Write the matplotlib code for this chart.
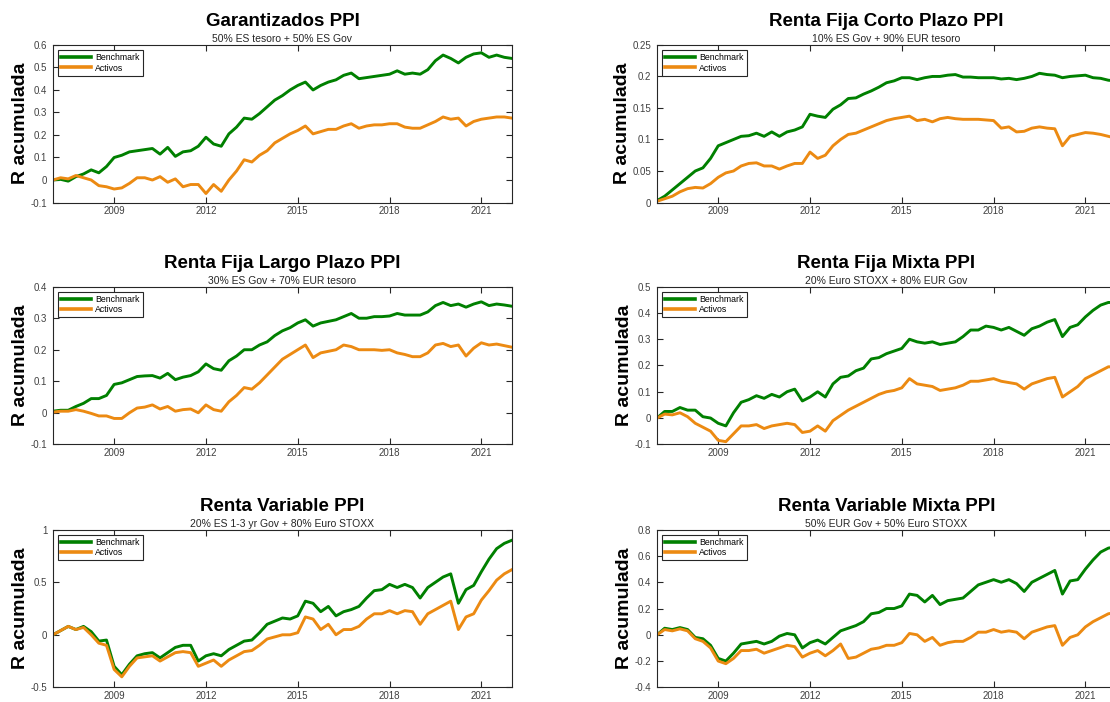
import numpy as np
import matplotlib
matplotlib.use("Agg")
import matplotlib.pyplot as plt

plt.rcParams['font.family'] = ['Liberation Sans', 'DejaVu Sans']
plt.rcParams['axes.unicode_minus'] = False

# quarterly grid, 2007.0 .. 2022.0
years = 2007 + np.arange(61) / 4

titles = ["Garantizados PPI", "Renta Fija Corto Plazo PPI",
          "Renta Fija Largo Plazo PPI", "Renta Fija Mixta PPI",
          "Renta Variable PPI", "Renta Variable Mixta PPI"]
subtitles = ["50% ES tesoro + 50% ES Gov", "10% ES Gov + 90% EUR tesoro",
             "30% ES Gov + 70% EUR tesoro", "20% Euro STOXX + 80% EUR Gov",
             "20% ES 1-3 yr Gov + 80% Euro STOXX", "50% EUR Gov + 50% Euro STOXX"]

# Garantizados
bench_gar = [0.0, 0.003, -0.005, 0.015, 0.027, 0.045, 0.032, 0.06, 0.10, 0.11,
             0.125, 0.13, 0.135, 0.14, 0.115, 0.145, 0.105, 0.125, 0.13, 0.15,
             0.19, 0.16, 0.15, 0.205, 0.235, 0.275, 0.27, 0.295, 0.325, 0.355,
             0.375, 0.40, 0.42, 0.435, 0.40, 0.42, 0.435, 0.445, 0.465, 0.475,
             0.45, 0.455, 0.46, 0.465, 0.47, 0.485, 0.47, 0.475, 0.47, 0.49,
             0.53, 0.555, 0.54, 0.52, 0.545, 0.56, 0.565, 0.545, 0.555, 0.545, 0.54]
act_gar = [0.0, 0.01, 0.005, 0.02, 0.01, 0.0, -0.025, -0.03, -0.04, -0.035,
           -0.015, 0.01, 0.01, 0.0, 0.015, -0.01, 0.005, -0.03, -0.02, -0.02,
           -0.06, -0.02, -0.05, 0.0, 0.04, 0.09, 0.08, 0.11, 0.13, 0.165,
           0.185, 0.205, 0.22, 0.24, 0.205, 0.215, 0.225, 0.225, 0.24, 0.25,
           0.23, 0.24, 0.245, 0.245, 0.25, 0.25, 0.235, 0.23, 0.23, 0.245,
           0.26, 0.28, 0.27, 0.275, 0.24, 0.26, 0.27, 0.275, 0.28, 0.28, 0.275]

# Renta Fija Corto Plazo
bench_rfcp = [0.003, 0.01, 0.02, 0.03, 0.04, 0.05, 0.055, 0.07, 0.09, 0.095,
              0.10, 0.105, 0.106, 0.11, 0.105, 0.112, 0.105, 0.112, 0.115, 0.12,
              0.14, 0.137, 0.135, 0.148, 0.155, 0.165, 0.166, 0.172, 0.177, 0.183,
              0.19, 0.193, 0.198, 0.198, 0.195, 0.198, 0.20, 0.20, 0.202, 0.203,
              0.199, 0.199, 0.198, 0.198, 0.198, 0.196, 0.197, 0.195, 0.197, 0.20,
              0.205, 0.203, 0.202, 0.198, 0.20, 0.201, 0.202, 0.198, 0.197, 0.194, 0.193]
act_rfcp = [0.002, 0.006, 0.01, 0.017, 0.022, 0.024, 0.023, 0.03, 0.04, 0.047,
            0.05, 0.058, 0.062, 0.063, 0.058, 0.058, 0.053, 0.058, 0.062, 0.062,
            0.08, 0.07, 0.075, 0.09, 0.10, 0.108, 0.11, 0.115, 0.12, 0.125,
            0.13, 0.133, 0.135, 0.137, 0.13, 0.132, 0.128, 0.133, 0.135, 0.133,
            0.132, 0.132, 0.132, 0.131, 0.13, 0.118, 0.12, 0.112, 0.113, 0.118,
            0.12, 0.118, 0.117, 0.09, 0.105, 0.108, 0.111, 0.11, 0.108, 0.105, 0.102]

# Renta Fija Largo Plazo
bench_rflp = [0.005, 0.008, 0.008, 0.02, 0.03, 0.045, 0.045, 0.055, 0.09, 0.095,
              0.105, 0.115, 0.117, 0.118, 0.11, 0.125, 0.105, 0.113, 0.118, 0.13,
              0.155, 0.14, 0.135, 0.165, 0.18, 0.20, 0.20, 0.215, 0.225, 0.245,
              0.26, 0.27, 0.285, 0.295, 0.275, 0.285, 0.29, 0.295, 0.305, 0.315,
              0.30, 0.30, 0.305, 0.305, 0.307, 0.315, 0.31, 0.31, 0.31, 0.32,
              0.34, 0.35, 0.34, 0.345, 0.335, 0.345, 0.352, 0.34, 0.345, 0.342, 0.338]
act_rflp = [0.002, 0.005, 0.005, 0.01, 0.005, -0.002, -0.01, -0.01, -0.018, -0.018,
            0.0, 0.015, 0.018, 0.025, 0.012, 0.02, 0.005, 0.01, 0.012, 0.0,
            0.025, 0.01, 0.005, 0.035, 0.055, 0.08, 0.075, 0.095, 0.12, 0.145,
            0.17, 0.185, 0.20, 0.215, 0.175, 0.19, 0.195, 0.20, 0.215, 0.21,
            0.20, 0.20, 0.20, 0.198, 0.20, 0.19, 0.185, 0.178, 0.178, 0.19,
            0.215, 0.22, 0.21, 0.215, 0.18, 0.205, 0.222, 0.215, 0.218, 0.213, 0.208]

# Renta Fija Mixta
bench_rfm = [0.0, 0.025, 0.025, 0.04, 0.03, 0.03, 0.005, 0.0, -0.02, -0.03,
             0.02, 0.06, 0.07, 0.085, 0.075, 0.09, 0.08, 0.10, 0.11, 0.065,
             0.08, 0.10, 0.08, 0.13, 0.155, 0.16, 0.18, 0.19, 0.225, 0.23,
             0.245, 0.255, 0.265, 0.30, 0.29, 0.285, 0.29, 0.28, 0.285, 0.29,
             0.31, 0.335, 0.335, 0.35, 0.345, 0.335, 0.345, 0.33, 0.315, 0.34,
             0.35, 0.365, 0.375, 0.31, 0.345, 0.355, 0.385, 0.41, 0.43, 0.44, 0.44]
act_rfm = [0.0, 0.015, 0.012, 0.02, 0.005, -0.02, -0.035, -0.05, -0.085, -0.09,
           -0.06, -0.03, -0.03, -0.025, -0.04, -0.03, -0.025, -0.02, -0.025, -0.055,
           -0.05, -0.03, -0.05, -0.01, 0.01, 0.03, 0.045, 0.06, 0.075, 0.09,
           0.10, 0.105, 0.115, 0.15, 0.13, 0.125, 0.12, 0.105, 0.11, 0.115,
           0.125, 0.14, 0.14, 0.145, 0.15, 0.14, 0.135, 0.13, 0.11, 0.13,
           0.14, 0.15, 0.155, 0.08, 0.10, 0.12, 0.15, 0.165, 0.18, 0.195, 0.195]

# Renta Variable
bench_rv = [0.0, 0.04, 0.08, 0.05, 0.08, 0.03, -0.06, -0.05, -0.30, -0.38,
            -0.28, -0.20, -0.18, -0.17, -0.22, -0.17, -0.12, -0.10, -0.10, -0.25,
            -0.20, -0.18, -0.20, -0.14, -0.10, -0.06, -0.05, 0.02, 0.10, 0.13,
            0.16, 0.15, 0.18, 0.32, 0.30, 0.22, 0.27, 0.18, 0.22, 0.24,
            0.27, 0.35, 0.42, 0.43, 0.48, 0.45, 0.48, 0.45, 0.35, 0.45,
            0.50, 0.55, 0.58, 0.30, 0.43, 0.47, 0.60, 0.72, 0.82, 0.87, 0.90]
act_rv = [0.0, 0.04, 0.08, 0.05, 0.07, 0.0, -0.08, -0.10, -0.33, -0.40,
          -0.30, -0.22, -0.21, -0.20, -0.25, -0.21, -0.17, -0.16, -0.17, -0.30,
          -0.27, -0.24, -0.30, -0.24, -0.20, -0.16, -0.15, -0.10, -0.04, -0.02,
          0.0, 0.0, 0.02, 0.17, 0.15, 0.05, 0.10, 0.0, 0.05, 0.05,
          0.08, 0.15, 0.20, 0.20, 0.23, 0.20, 0.23, 0.22, 0.10, 0.20,
          0.24, 0.28, 0.32, 0.05, 0.17, 0.20, 0.33, 0.42, 0.52, 0.58, 0.62]

# Renta Variable Mixta
bench_rvm = [0.0, 0.05, 0.04, 0.055, 0.04, -0.02, -0.03, -0.08, -0.18, -0.20,
             -0.14, -0.07, -0.06, -0.05, -0.07, -0.05, -0.01, 0.01, 0.0, -0.10,
             -0.06, -0.04, -0.07, -0.02, 0.03, 0.05, 0.07, 0.10, 0.16, 0.17,
             0.20, 0.20, 0.22, 0.31, 0.30, 0.25, 0.30, 0.23, 0.26, 0.27,
             0.28, 0.33, 0.38, 0.40, 0.42, 0.40, 0.42, 0.39, 0.33, 0.40,
             0.43, 0.46, 0.49, 0.31, 0.41, 0.42, 0.50, 0.57, 0.63, 0.66, 0.67]
act_rvm = [0.0, 0.04, 0.03, 0.045, 0.03, -0.03, -0.05, -0.10, -0.20, -0.22,
           -0.18, -0.12, -0.12, -0.11, -0.14, -0.12, -0.10, -0.08, -0.09, -0.17,
           -0.14, -0.12, -0.16, -0.12, -0.07, -0.18, -0.17, -0.14, -0.11, -0.10,
           -0.08, -0.08, -0.06, 0.01, 0.0, -0.05, -0.02, -0.08, -0.06, -0.05,
           -0.05, -0.02, 0.02, 0.02, 0.04, 0.02, 0.03, 0.02, -0.03, 0.02,
           0.04, 0.06, 0.07, -0.08, -0.02, 0.0, 0.06, 0.10, 0.13, 0.16, 0.17]

benchmarks = [bench_gar, bench_rfcp, bench_rflp, bench_rfm, bench_rv, bench_rvm]
activos = [act_gar, act_rfcp, act_rflp, act_rfm, act_rv, act_rvm]
yticks = [[-0.1, 0, 0.1, 0.2, 0.3, 0.4, 0.5, 0.6],
          [0, 0.05, 0.1, 0.15, 0.2, 0.25],
          [-0.1, 0, 0.1, 0.2, 0.3, 0.4],
          [-0.1, 0, 0.1, 0.2, 0.3, 0.4, 0.5],
          [-0.5, 0, 0.5, 1],
          [-0.4, -0.2, 0, 0.2, 0.4, 0.6, 0.8]]
xticks = [2009, 2012, 2015, 2018, 2021]

green = '#008000'
orange = '#EC8A12'
axcol = '#262626'

fig = plt.figure(figsize=(11.1, 7.02), dpi=100)
lefts = [0.0477, 0.5919]
bottoms = [0.7115, 0.3671, 0.0209]
w, h = 0.4135, 0.2245

for i in range(6):
    ax = fig.add_axes([lefts[i % 2], bottoms[i // 2], w, h])
    ax.plot(years, benchmarks[i], color=green, lw=2.1, label='Benchmark')
    ax.plot(years, activos[i], color=orange, lw=2.1, label='Activos')
    ax.set_xlim(2007, 2022)
    ax.set_ylim(yticks[i][0], yticks[i][-1])
    ax.set_xticks(xticks)
    ax.set_xticklabels([str(t) for t in xticks])
    ax.set_yticks(yticks[i])
    ax.set_yticklabels(['%g' % t for t in yticks[i]])
    ax.tick_params(direction='in', length=4, width=0.8, colors=axcol,
                   labelsize=7, top=True, right=True, pad=4)
    ax.tick_params(axis='x', pad=2.5)
    for tl in ax.get_xticklabels() + ax.get_yticklabels():
        tl.set_color('#404040')
    for s in ax.spines.values():
        s.set_color(axcol)
        s.set_linewidth(0.8)
    ax.set_ylabel('R acumulada', fontsize=14, fontweight='bold', labelpad=1)
    ax.text(0.5, 1.118, titles[i], transform=ax.transAxes, ha='center',
            va='baseline', fontsize=13.5, fontweight='bold')
    ax.text(0.5, 1.02, subtitles[i], transform=ax.transAxes, ha='center',
            va='baseline', fontsize=7.5, color='#262626')
    leg = ax.legend(loc='upper left', fontsize=6.3, frameon=True, fancybox=False,
                    edgecolor=axcol, framealpha=1, borderpad=0.35,
                    handlelength=3.4, handletextpad=0.5, labelspacing=0.15,
                    borderaxespad=0.6)
    leg.get_frame().set_linewidth(0.8)
    for line in leg.get_lines():
        line.set_linewidth(2.6)

fig.savefig('out.png', dpi=100)
